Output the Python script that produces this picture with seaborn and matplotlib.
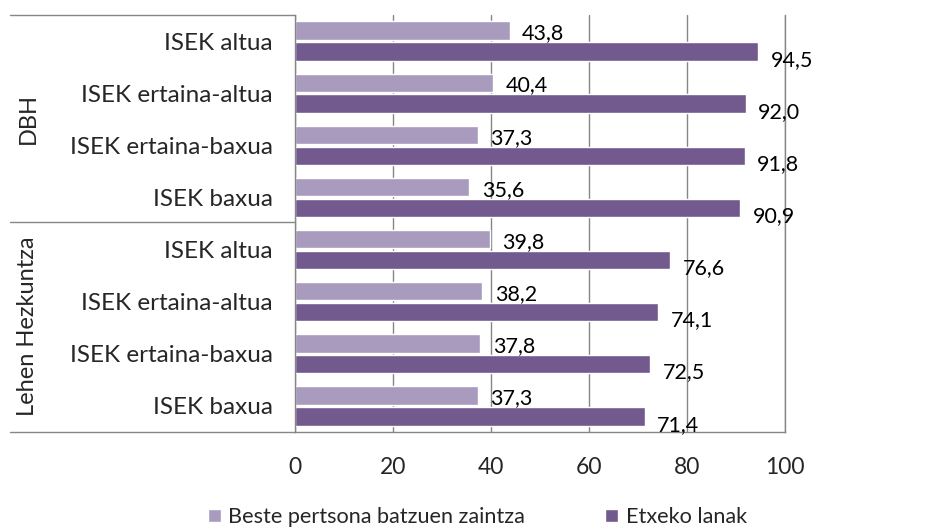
import pandas as pd
import numpy as np
import matplotlib
matplotlib.use("Agg")
import matplotlib.pyplot as plt
import seaborn as sns
from matplotlib.lines import Line2D

# datuak
groups = ["DBH"] * 4 + ["Lehen Hezkuntza"] * 4
levels = ["ISEK altua", "ISEK ertaina-altua", "ISEK ertaina-baxua", "ISEK baxua"] * 2
series_names = ["Beste pertsona batzuen zaintza", "Etxeko lanak"]
zaintza = [43.8, 40.4, 37.3, 35.6, 39.8, 38.2, 37.8, 37.3]
etxeko = [94.5, 92.0, 91.8, 90.9, 76.6, 74.1, 72.5, 71.4]
colors = ["#A99BBE", "#725A8F"]
x_ticks = [0, 20, 40, 60, 80, 100]

sns.set_theme(style="white")
fam = ["Lato", "DejaVu Sans"]
plt.rcParams["font.family"] = fam

rows = [f"{g}|{l}" for g, l in zip(groups, levels)]
df = pd.DataFrame({
    "row": rows * 2,
    "value": zaintza + etxeko,
    "series": [series_names[0]] * len(rows) + [series_names[1]] * len(rows),
})

fig = plt.figure(figsize=(9.32, 5.32), dpi=100)
ax = fig.add_axes([295 / 932, 1 - 432 / 532, 490 / 932, 417 / 532])

sns.barplot(data=df, x="value", y="row", hue="series", order=rows,
            hue_order=series_names, palette=colors, orient="h",
            width=0.8, gap=0.12, ax=ax, saturation=1, legend=True)

ax.set_xlim(0, 100)
ax.set_xticks(x_ticks)
ax.set_xticklabels([str(t) for t in x_ticks], fontsize=16.5)
ax.set_yticks(range(len(rows)))
ax.set_yticklabels(levels, fontsize=17.5)
ax.tick_params(axis="y", length=0, pad=16)
ax.tick_params(axis="x", length=0, pad=18)
ax.set_xlabel("")
ax.set_ylabel("")
ax.grid(axis="x", color="#868686", linewidth=1)
ax.set_axisbelow(True)
for side in ["left", "right", "bottom"]:
    ax.spines[side].set_color("#868686")
    ax.spines[side].set_linewidth(1)
ax.spines["top"].set_visible(False)

# balioen etiketak
for cont, vals, dy in zip(ax.containers, [zaintza, etxeko], [-2, -6]):
    for patch, v in zip(cont.patches, vals):
        ax.annotate(f"{v:.1f}".replace(".", ","),
                    (patch.get_width(), patch.get_y() + patch.get_height() / 2),
                    xytext=(9, dy), textcoords="offset points",
                    ha="left", va="center", fontsize=15.5, color="black")

# taldeen etiketak eta lerroak
line_kw = dict(color="#868686", linewidth=1)
fig.add_artist(Line2D([10 / 932, 295 / 932], [1 - 15 / 532] * 2, **line_kw))
fig.add_artist(Line2D([10 / 932, 295 / 932], [1 - 222 / 532] * 2, **line_kw))
fig.add_artist(Line2D([10 / 932, 295 / 932], [1 - 432 / 532] * 2, **line_kw))
fig.text(28 / 932, 1 - 118 / 532, "DBH", rotation=90, ha="center", va="center", fontsize=17)
fig.text(28 / 932, 1 - 326 / 532, "Lehen Hezkuntza", rotation=90, ha="center", va="center", fontsize=17)

leg = ax.legend(loc="center", bbox_to_anchor=(0.512, 0.028),
                bbox_transform=fig.transFigure, ncol=2, frameon=False,
                prop={"family": fam, "size": 15.6}, handlelength=0.6, handleheight=0.6,
                handletextpad=0.35, columnspacing=3.7, borderpad=0)

fig.savefig("out.png", dpi=100)
